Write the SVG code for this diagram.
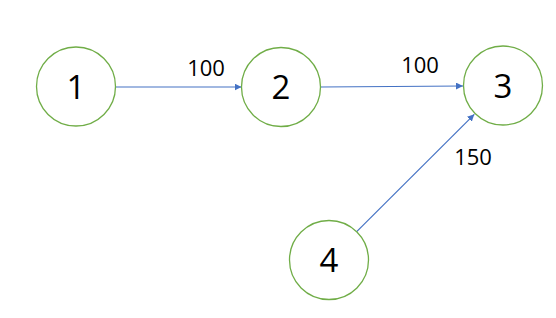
<svg xmlns="http://www.w3.org/2000/svg" width="556" height="318" viewBox="0 0 556 318">
<style>
.node circle{fill:#fff;stroke:#70AD47;stroke-width:1.3}
.node text{font-family:"Open Sans","Noto Sans",sans-serif;font-size:33px;fill:#000;text-anchor:middle}
.lbl{font-family:"Open Sans","Noto Sans",sans-serif;font-size:22px;fill:#000;text-anchor:middle}
.edge{stroke:#4472C4;stroke-width:1.2;fill:none;marker-end:url(#arr)}
</style>
<defs>
<marker id="arr" viewBox="0 0 10 10" refX="10" refY="5" markerWidth="7" markerHeight="7" markerUnits="userSpaceOnUse" orient="auto">
<path d="M0,0 L10,5 L0,10 z" fill="#4472C4"/>
</marker>
</defs>
<rect width="556" height="318" fill="#fff"/>
<g id="connectors">
<line class="edge" x1="115.5" y1="87" x2="241.5" y2="87"/>
<line class="edge" x1="320.5" y1="87" x2="463" y2="86"/>
<line class="edge" x1="356.7" y1="231.7" x2="474.3" y2="114.3"/>
<text class="lbl" x="206" y="76">100</text>
<text class="lbl" x="420" y="73">100</text>
<text class="lbl" x="473" y="165">150</text>
</g>
<g id="node1" class="node"><circle cx="76" cy="86.5" r="39.5"/><text x="76" y="98.5">1</text></g>
<g id="node2" class="node"><circle cx="281" cy="87" r="39.5"/><text x="281" y="99">2</text></g>
<g id="node3" class="node"><circle cx="503" cy="85.5" r="39.5"/><text x="503" y="97.5">3</text></g>
<g id="node4" class="node"><circle cx="329" cy="260" r="39.5"/><text x="329" y="272">4</text></g>
</svg>
